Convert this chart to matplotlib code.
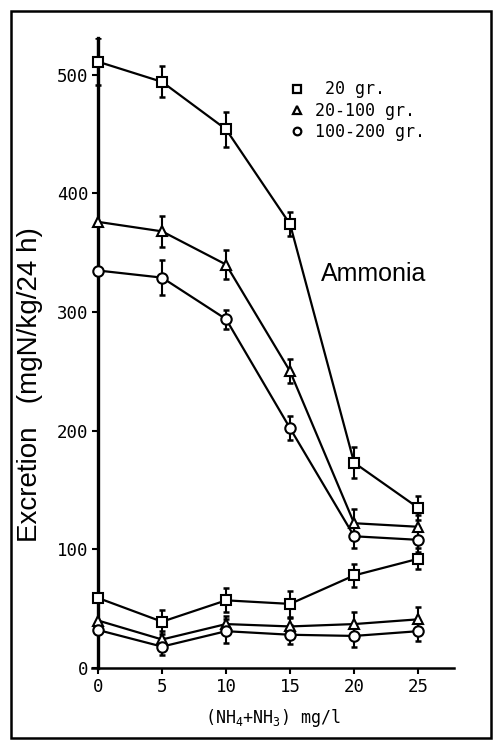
import numpy as np
import matplotlib
matplotlib.use("Agg")
import matplotlib.pyplot as plt
from matplotlib.lines import Line2D
from matplotlib.patches import Rectangle

plt.rcParams['mathtext.fontset'] = 'custom'
plt.rcParams['mathtext.rm'] = 'DejaVu Sans Mono'
plt.rcParams['mathtext.default'] = 'rm'

# ammonia concentration (mg/l)
conc = [0, 5, 10, 15, 20, 25]

# upper group (ammonia excretion)
sq_amm = [511, 494, 454, 374, 173, 135]
sq_amm_err = [20, 13, 15, 10, 13, 10]
tri_amm = [376, 368, 340, 250, 122, 119]
tri_amm_err = [0, 13, 12, 10, 12, 10]
circ_amm = [335, 329, 294, 202, 111, 108]
circ_amm_err = [0, 15, 8, 10, 10, 10]

# lower group
sq_low = [59, 39, 57, 54, 78, 92]
sq_low_err = [0, 10, 10, 11, 10, 9]
tri_low = [40, 24, 37, 35, 37, 41]
tri_low_err = [0, 7, 7, 7, 10, 10]
circ_low = [32, 18, 31, 28, 27, 31]
circ_low_err = [0, 7, 10, 8, 9, 8]

labels = [' 20 gr.', '20-100 gr.', '100-200 gr.']
marker_of = {'sq': ('s', 6.5), 'tri': ('^', 7), 'circ': ('o', 7.5)}

fig = plt.figure(figsize=(5, 7.46), dpi=100)
ax = fig.add_axes([0.184, 0.1046, 0.724, 0.8445])

mono = {'family': 'DejaVu Sans Mono', 'size': 12}


def draw(y, err, kind):
    m, ms = marker_of[kind]
    x = np.array(conc)
    y = np.array(y, dtype=float)
    e = np.array(err, dtype=float)
    keep = e > 0
    ax.errorbar(x[keep], y[keep], yerr=e[keep], fmt='none', ecolor='black',
                elinewidth=1.5, capsize=2.5, capthick=1.8, zorder=2)
    ax.plot(x, y, color='black', lw=1.6, marker=m, ms=ms, mfc='white',
            mec='black', mew=1.5, zorder=3, clip_on=False)


draw(sq_amm, sq_amm_err, 'sq')
draw(tri_amm, tri_amm_err, 'tri')
draw(circ_amm, circ_amm_err, 'circ')
draw(sq_low, sq_low_err, 'sq')
draw(tri_low, tri_low_err, 'tri')
draw(circ_low, circ_low_err, 'circ')

ax.set_xlim(-0.47, 27.8)
ax.set_ylim(0, 531)
ax.spines['top'].set_visible(False)
ax.spines['right'].set_visible(False)
ax.spines['left'].set_position(('data', 0))
ax.spines['left'].set_linewidth(2.4)
ax.spines['bottom'].set_linewidth(1.8)

ax.set_xticks(conc)
ax.set_yticks([0, 100, 200, 300, 400, 500])
ax.tick_params(axis='both', direction='out', length=4, width=1.5,
               labelsize=12.5, pad=3)
for t in ax.get_xticklabels() + ax.get_yticklabels():
    t.set_family('DejaVu Sans Mono')

ax.set_xlabel('(NH$_4$+NH$_3$) mg/l', fontdict=mono, labelpad=8)

fig.text(0.060, 0.484, 'Excretion   (mgN/kg/24 h)', rotation=90,
         ha='center', va='center', family='Liberation Sans', fontsize=20)
fig.text(0.642, 1 - 274 / 746, 'Ammonia', ha='left', va='center',
         family='Liberation Sans', fontsize=18)

handles = [Line2D([], [], ls='none', marker=marker_of[k][0], ms=5.5,
                  mfc='white', mec='black', mew=1.6)
           for k in ('sq', 'tri', 'circ')]
ax.legend(handles, labels, loc='upper left',
          bbox_to_anchor=(0.564, 1 - 72 / 746), bbox_transform=fig.transFigure,
          frameon=False, prop=mono, handlelength=0.8, handletextpad=0.7,
          labelspacing=0.2, borderpad=0)

fig.patches.append(Rectangle((11 / 500, 8 / 746), 480 / 500, 727 / 746,
                             transform=fig.transFigure, fill=False,
                             lw=1.8, ec='black'))

fig.savefig('out.png', dpi=100)
